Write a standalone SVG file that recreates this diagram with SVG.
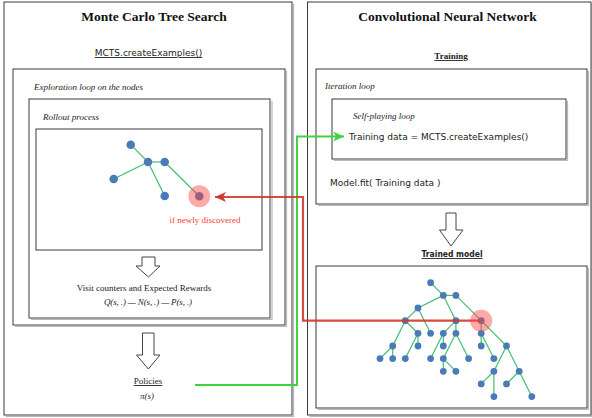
<svg xmlns="http://www.w3.org/2000/svg" width="592" height="418" viewBox="0 0 592 418">
  <style>
    .box { fill: none; stroke: #3a3a3a; stroke-width: 1; }
    .shadow { fill: none; stroke: #b8b8b8; stroke-width: 1.2; }
    .title { font-family: "Liberation Serif", serif; font-weight: bold; font-size: 13.5px; fill: #111; text-anchor: middle; }
    .serif { font-family: "Liberation Serif", serif; font-size: 9px; fill: #222; }
    .ital { font-family: "Liberation Serif", serif; font-style: italic; font-size: 9px; fill: #222; }
    .sans { font-family: "DejaVu Sans", Verdana, sans-serif; font-size: 9px; fill: #222; }
    .blk { fill: #fff; stroke: #444; stroke-width: 1; }
    .edge { stroke: #3fbf72; stroke-width: 1.2; fill: none; }
    .dot { fill: #4a7bb7; }
    .hl { fill: #ff4040; fill-opacity: 0.45; }
    .red { fill: none; stroke: #cf3a2e; stroke-opacity: 0.9; stroke-width: 2.2; }
    .green { fill: none; stroke: #3fd43f; stroke-width: 2; }
  </style>
  <defs>
    <marker id="redHead" markerUnits="userSpaceOnUse" markerWidth="14" markerHeight="12" refX="11" refY="5" orient="auto">
      <path d="M0,0 L11,5 L0,10 L3,5 z" fill="#cf3a2e"/>
    </marker>
    <marker id="greenHead" markerUnits="userSpaceOnUse" markerWidth="14" markerHeight="12" refX="11" refY="5" orient="auto">
      <path d="M0,0 L11,5 L0,10 L3,5 z" fill="#3fd43f"/>
    </marker>
  </defs>
  <rect width="592" height="418" fill="#fff"/>

  <!-- Monte Carlo Tree Search panel -->
  <g id="mcts">
    <path class="shadow" d="M293.5,4 V416.5 H6"/>
    <rect class="box" x="4" y="2" width="288" height="413"/>
    <text class="title" x="154" y="21">Monte Carlo Tree Search</text>
    <text class="sans" x="148.5" y="56" text-anchor="middle" font-size="10" text-decoration="underline">MCTS.createExamples()</text>
  </g>

  <g id="exploration-loop">
    <path class="shadow" d="M286.5,71 V326.5 H15"/>
    <rect class="box" x="13" y="69" width="272" height="256"/>
    <text class="ital" x="34" y="90">Exploration loop on the nodes</text>
  </g>

  <g id="rollout">
    <path class="shadow" d="M272,101 V319.5 H31"/>
    <rect class="box" x="29" y="99" width="241" height="219"/>
    <text class="ital" x="43" y="120">Rollout process</text>
  </g>

  <g id="rollout-tree">
    <rect class="box" x="36" y="129" width="226" height="121"/>
    <g class="edge">
      <line x1="130.7" y1="144.7" x2="148" y2="162"/>
      <line x1="148" y1="162" x2="164.7" y2="162"/>
      <line x1="148" y1="162" x2="113.7" y2="179"/>
      <line x1="148" y1="162" x2="164.7" y2="196"/>
      <line x1="164.7" y1="162" x2="199.3" y2="196.3"/>
    </g>
    <g id="rt-n1"><circle class="dot" cx="130.7" cy="144.7" r="4.3"/></g>
    <g id="rt-n2"><circle class="dot" cx="148" cy="162" r="4.3"/></g>
    <g id="rt-n3"><circle class="dot" cx="164.7" cy="162" r="4.3"/></g>
    <g id="rt-n4"><circle class="dot" cx="113.7" cy="179" r="4.3"/></g>
    <g id="rt-n5"><circle class="dot" cx="164.7" cy="196" r="4.3"/></g>
    <g id="rt-new">
      <circle class="dot" cx="199.3" cy="196.3" r="4.3"/>
      <circle class="hl" cx="199.3" cy="196.3" r="11"/>
    </g>
    <text class="serif" x="205" y="223" text-anchor="middle" style="fill:#ff3a3a">if newly discovered</text>
  </g>

  <g id="arrow-stats">
    <path class="blk" d="M142,257 H155 V266 H160 L148.5,277 L136,266 H142 Z"/>
  </g>
  <g id="stats">
    <text class="serif" x="144" y="291" text-anchor="middle">Visit counters and Expected Rewards</text>
    <text class="ital" x="148" y="305" text-anchor="middle" font-size="7" textLength="88" lengthAdjust="spacing">Q(s, .) — N(s, .) — P(s, .)</text>
  </g>

  <g id="arrow-policies">
    <path class="blk" d="M142.5,333 H154 V355 H160 L148.3,369 L136.5,355 H142.5 Z"/>
  </g>
  <g id="policies">
    <text class="serif" x="148" y="384" text-anchor="middle" font-size="9.5" text-decoration="underline">Policies</text>
    <text class="ital" x="147" y="399" text-anchor="middle" font-size="9.5">π(s)</text>
  </g>

  <!-- Convolutional Neural Network panel -->
  <g id="cnn">
    <path class="shadow" d="M592,4 V416.5 H309.5"/>
    <rect class="box" x="307.5" y="2" width="283.5" height="413"/>
    <text class="title" x="447.5" y="21">Convolutional Neural Network</text>
    <text class="serif" x="451" y="59" text-anchor="middle" font-size="9.5" font-weight="bold" text-decoration="underline">Training</text>
  </g>

  <g id="iteration-loop">
    <path class="shadow" d="M588.5,71 V205.5 H318"/>
    <rect class="box" x="316" y="69" width="271" height="135"/>
    <text class="ital" x="325" y="89">Iteration loop</text>
    <text class="sans" x="330" y="186">Model.fit( Training data )</text>
  </g>

  <g id="self-play">
    <path class="shadow" d="M567.5,101 V160.5 H334"/>
    <rect class="box" x="332" y="99" width="234" height="60"/>
    <text class="ital" x="353" y="119">Self-playing loop</text>
    <text class="sans" x="349" y="140">Training data = MCTS.createExamples()</text>
  </g>

  <g id="arrow-model">
    <path class="blk" d="M446,213 H456 V230 H463 L451,246 L439.5,230 H446 Z"/>
  </g>
  <g id="trained-model-label">
    <text class="sans" x="452" y="257" text-anchor="middle" font-size="8.5" font-weight="bold" textLength="61" lengthAdjust="spacingAndGlyphs" text-decoration="underline">Trained model</text>
  </g>

  <g id="trained-model">
    <path class="shadow" d="M588.5,268 V409.5 H318"/>
    <rect class="box" x="316" y="266" width="271" height="142"/>
    <g class="edge">
      <line x1="430.6" y1="282.7" x2="443.3" y2="295.4"/>
      <line x1="443.3" y1="295.4" x2="455.9" y2="295.4"/>
      <line x1="443.3" y1="295.4" x2="418" y2="308"/>
      <line x1="443.3" y1="295.4" x2="455.9" y2="320.7"/>
      <line x1="455.9" y1="295.4" x2="481.2" y2="320.7"/>
      <line x1="418" y1="308" x2="405.3" y2="320.7"/>
      <line x1="418" y1="308" x2="430.6" y2="333.3"/>
      <line x1="405.3" y1="320.7" x2="418" y2="333.3"/>
      <line x1="405.3" y1="320.7" x2="392.7" y2="346"/>
      <line x1="418" y1="333.3" x2="418" y2="346"/>
      <line x1="418" y1="333.3" x2="405.3" y2="358.6"/>
      <line x1="392.7" y1="346" x2="380" y2="358.6"/>
      <line x1="392.7" y1="346" x2="392.7" y2="358.6"/>
      <line x1="455.9" y1="320.7" x2="443.3" y2="333.3"/>
      <line x1="455.9" y1="320.7" x2="455.9" y2="333.3"/>
      <line x1="443.3" y1="333.3" x2="443.3" y2="346"/>
      <line x1="443.3" y1="333.3" x2="430.6" y2="358.6"/>
      <line x1="455.9" y1="333.3" x2="443.3" y2="358.6"/>
      <line x1="455.9" y1="333.3" x2="468.6" y2="358.6"/>
      <line x1="443.3" y1="358.6" x2="443.3" y2="371.3"/>
      <line x1="443.3" y1="358.6" x2="455.9" y2="371.3"/>
      <line x1="481.2" y1="320.7" x2="481.2" y2="333.3"/>
      <line x1="481.2" y1="320.7" x2="506.5" y2="346"/>
      <line x1="481.2" y1="333.3" x2="481.2" y2="346"/>
      <line x1="481.2" y1="333.3" x2="493.9" y2="358.6"/>
      <line x1="506.5" y1="346" x2="493.9" y2="371.3"/>
      <line x1="506.5" y1="346" x2="519.2" y2="371.3"/>
      <line x1="493.9" y1="371.3" x2="481.2" y2="383.9"/>
      <line x1="493.9" y1="371.3" x2="493.9" y2="396.6"/>
      <line x1="519.2" y1="371.3" x2="506.5" y2="383.9"/>
      <line x1="519.2" y1="371.3" x2="531.8" y2="396.6"/>
    </g>
    <g id="tm-a"><circle class="dot" cx="430.6" cy="282.7" r="3.4"/></g>
    <g id="tm-b"><circle class="dot" cx="443.3" cy="295.4" r="3.4"/></g>
    <g id="tm-c"><circle class="dot" cx="455.9" cy="295.4" r="3.4"/></g>
    <g id="tm-d"><circle class="dot" cx="418" cy="308" r="3.4"/></g>
    <g id="tm-e"><circle class="dot" cx="405.3" cy="320.7" r="3.4"/></g>
    <g id="tm-f"><circle class="dot" cx="455.9" cy="320.7" r="3.4"/></g>
    <g id="tm-h"><circle class="dot" cx="481.2" cy="320.7" r="3.4"/></g>
    <g id="tm-g1"><circle class="dot" cx="418" cy="333.3" r="3.4"/></g>
    <g id="tm-g2"><circle class="dot" cx="430.6" cy="333.3" r="3.4"/></g>
    <g id="tm-g3"><circle class="dot" cx="443.3" cy="333.3" r="3.4"/></g>
    <g id="tm-g4"><circle class="dot" cx="455.9" cy="333.3" r="3.4"/></g>
    <g id="tm-h1"><circle class="dot" cx="481.2" cy="333.3" r="3.4"/></g>
    <g id="tm-i1"><circle class="dot" cx="392.7" cy="346" r="3.4"/></g>
    <g id="tm-i2"><circle class="dot" cx="418" cy="346" r="3.4"/></g>
    <g id="tm-i3"><circle class="dot" cx="443.3" cy="346" r="3.4"/></g>
    <g id="tm-i4"><circle class="dot" cx="481.2" cy="346" r="3.4"/></g>
    <g id="tm-i5"><circle class="dot" cx="506.5" cy="346" r="3.4"/></g>
    <g id="tm-j1"><circle class="dot" cx="380" cy="358.6" r="3.4"/></g>
    <g id="tm-j2"><circle class="dot" cx="392.7" cy="358.6" r="3.4"/></g>
    <g id="tm-j3"><circle class="dot" cx="405.3" cy="358.6" r="3.4"/></g>
    <g id="tm-j4"><circle class="dot" cx="430.6" cy="358.6" r="3.4"/></g>
    <g id="tm-j5"><circle class="dot" cx="443.3" cy="358.6" r="3.4"/></g>
    <g id="tm-j6"><circle class="dot" cx="468.6" cy="358.6" r="3.4"/></g>
    <g id="tm-j7"><circle class="dot" cx="493.9" cy="358.6" r="3.4"/></g>
    <g id="tm-k1"><circle class="dot" cx="443.3" cy="371.3" r="3.4"/></g>
    <g id="tm-k2"><circle class="dot" cx="455.9" cy="371.3" r="3.4"/></g>
    <g id="tm-k3"><circle class="dot" cx="493.9" cy="371.3" r="3.4"/></g>
    <g id="tm-k4"><circle class="dot" cx="519.2" cy="371.3" r="3.4"/></g>
    <g id="tm-l1"><circle class="dot" cx="481.2" cy="383.9" r="3.4"/></g>
    <g id="tm-l2"><circle class="dot" cx="506.5" cy="383.9" r="3.4"/></g>
    <g id="tm-m1"><circle class="dot" cx="493.9" cy="396.6" r="3.4"/></g>
    <g id="tm-m2"><circle class="dot" cx="531.8" cy="396.6" r="3.4"/></g>
  </g>

  <!-- connectors between the two panels -->
  <g id="connectors">
    <path class="green" d="M195,385 H297 V136.5 H344" marker-end="url(#greenHead)"/>
    <path class="red" d="M481.2,320.7 H303 V197 H215" marker-end="url(#redHead)"/>
    <circle class="hl" cx="481.2" cy="320.7" r="11"/>
  </g>
</svg>
